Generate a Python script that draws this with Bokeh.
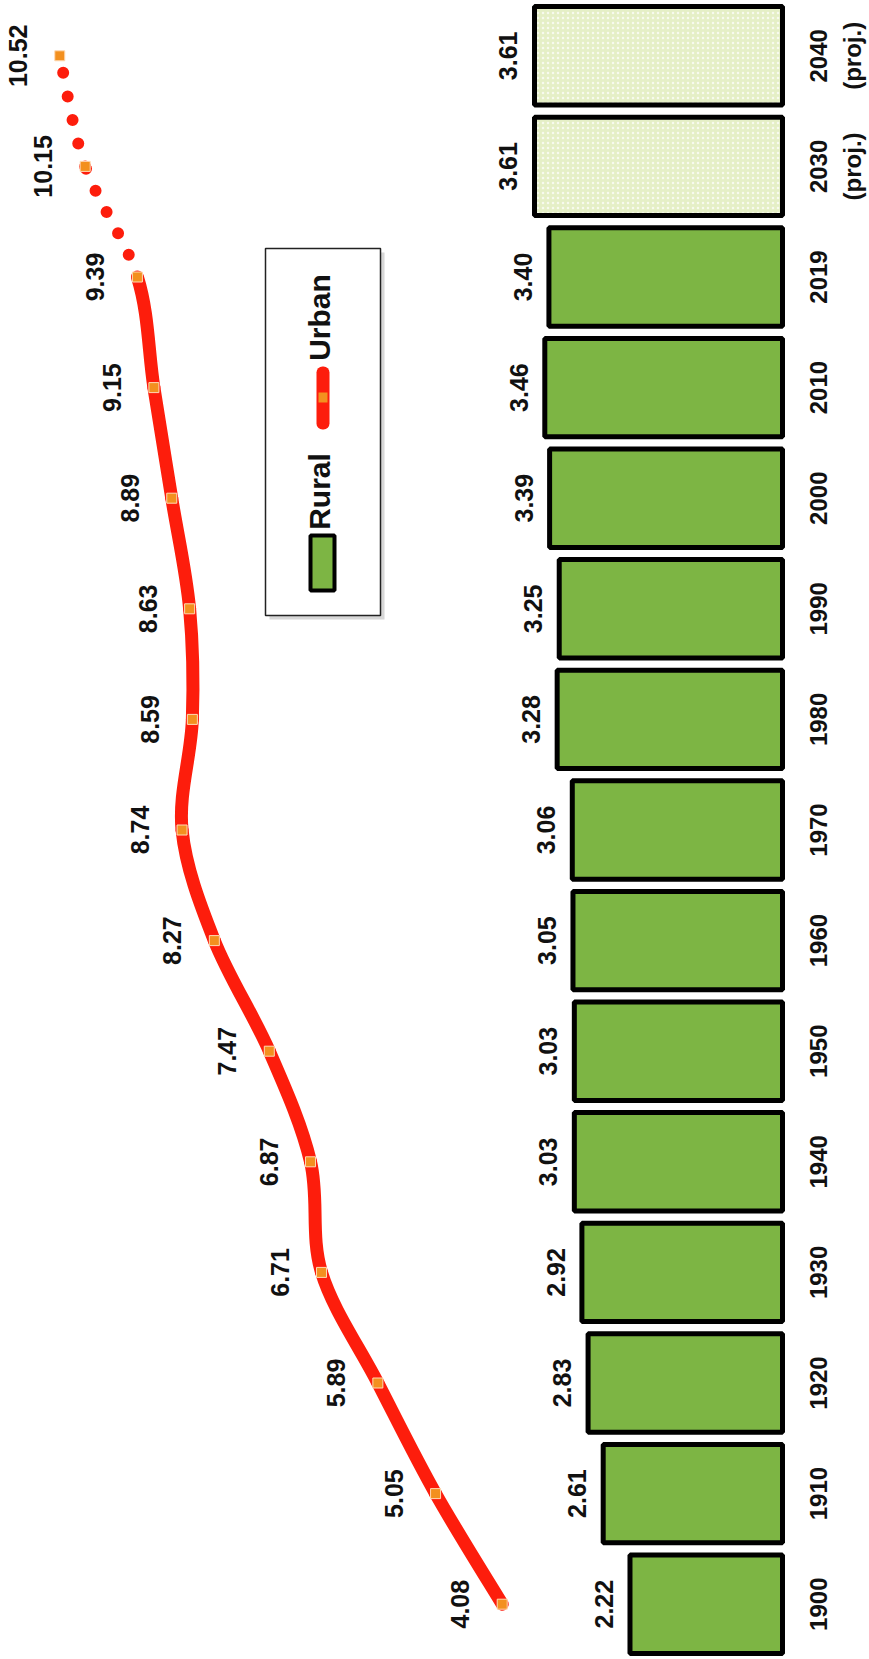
import math
from bokeh.plotting import figure
from bokeh.models import FactorRange, Range1d, BoxAnnotation, Label, ColumnDataSource
from bokeh.core.properties import value
from bokeh.embed import file_html
from bokeh.resources import INLINE

# ---- data ----
years = ["1900", "1910", "1920", "1930", "1940", "1950", "1960", "1970",
         "1980", "1990", "2000", "2010", "2019", "2030", "2040"]
proj_note = ["(proj.)", "(proj.)"]  # second line under 2030 and 2040
rural = [2.22, 2.61, 2.83, 2.92, 3.03, 3.03, 3.05, 3.06,
         3.28, 3.25, 3.39, 3.46, 3.40, 3.61, 3.61]
urban = [4.08, 5.05, 5.89, 6.71, 6.87, 7.47, 8.27, 8.74,
         8.59, 8.63, 8.89, 9.15, 9.39, 10.15, 10.52]
n_actual = 13  # 1900..2019 measured, 2030/2040 projected

FONT = value("Liberation Sans")
GREEN = "#7db544"
PROJ = "#e5efc6"
RED = "#fd1d0c"
ORANGE = "#f3901f"

H = 1659
W = 869
PX_PER_UNIT = 68.7
ZERO_X = 782  # pixel where the value axis starts (bars grow leftwards)
p = figure(frame_width=W, frame_height=H,
           x_range=Range1d(ZERO_X / PX_PER_UNIT, -(W - ZERO_X) / PX_PER_UNIT),
           y_range=FactorRange(factors=years),
           output_backend="svg", toolbar_location=None,
           x_axis_location=None, y_axis_location=None, min_border=0)
p.xgrid.visible = False
p.ygrid.visible = False
p.outline_line_color = None
p.background_fill_color = "white"
p.border_fill_color = "white"

# ---- bars ----
src_a = ColumnDataSource(dict(year=years[:n_actual], rural=rural[:n_actual]))
src_p = ColumnDataSource(dict(year=years[n_actual:], rural=rural[n_actual:],
                              zero=[0] * len(proj_note), note=proj_note))
p.hbar(y="year", left=0, right="rural", height=0.89, source=src_a,
       fill_color=GREEN, line_color="black", line_width=5)
p.hbar(y="year", left=0, right="rural", height=0.89, source=src_p,
       fill_color=PROJ, line_color="black", line_width=5,
       hatch_pattern="dot", hatch_color="white", hatch_alpha=0.7, hatch_scale=5)

src_all = ColumnDataSource(dict(year=years, rural=rural, urban=urban,
                                zero=[0] * len(years),
                                rl=[f"{v:.2f}" for v in rural],
                                ul=[f"{v:.2f}" for v in urban]))

# category labels (rotated, to the right of the bars)
p.text(x="zero", y="year", text="year", source=src_all, angle=math.pi / 2,
       text_align="center", text_baseline="middle", x_offset=36,
       text_font=FONT, text_font_style="bold", text_font_size="24px",
       text_color="#111111")
p.text(x="zero", y="year", text="note", source=src_p, angle=math.pi / 2,
       text_align="center", text_baseline="middle", x_offset=70,
       text_font=FONT, text_font_style="bold", text_font_size="24px",
       text_color="#111111")

# rural value labels
p.text(x="rural", y="year", text="rl", source=src_all, angle=math.pi / 2,
       text_align="center", text_baseline="middle", x_offset=-26,
       text_font=FONT, text_font_style="bold", text_font_size="25px",
       text_color="#111111")

# ---- urban line (smoothed, Excel-like) ----
ys = [i + 0.5 for i in range(len(years))]
n = len(urban)
seg = dict(x0=[], y0=[], x1=[], y1=[], cx0=[], cy0=[], cx1=[], cy1=[])
for i in range(n - 1):
    xp, yp = (urban[i - 1], ys[i - 1]) if i > 0 else (urban[i], ys[i])
    xn, yn = (urban[i + 2], ys[i + 2]) if i + 2 < n else (urban[i + 1], ys[i + 1])
    seg["x0"].append(urban[i]); seg["y0"].append(ys[i])
    seg["x1"].append(urban[i + 1]); seg["y1"].append(ys[i + 1])
    seg["cx0"].append(urban[i] + (urban[i + 1] - xp) / 6)
    seg["cy0"].append(ys[i] + (ys[i + 1] - yp) / 6)
    seg["cx1"].append(urban[i + 1] - (xn - urban[i]) / 6)
    seg["cy1"].append(ys[i + 1] - (yn - ys[i]) / 6)

solid = ColumnDataSource({k: v[:n_actual - 1] for k, v in seg.items()})
dotted = ColumnDataSource({k: v[n_actual - 1:] for k, v in seg.items()})
p.bezier(x0="x0", y0="y0", x1="x1", y1="y1", cx0="cx0", cy0="cy0",
         cx1="cx1", cy1="cy1", source=solid, line_color=RED, line_width=13,
         line_cap="round")
p.bezier(x0="x0", y0="y0", x1="x1", y1="y1", cx0="cx0", cy0="cy0",
         cx1="cx1", cy1="cy1", source=dotted, line_color=RED, line_width=12,
         line_cap="round", line_dash="0 24")

p.scatter(x="urban", y="year", source=src_all, marker="square", size=10,
          fill_color=ORANGE, line_color="#ffd9b3", line_width=1)
p.text(x="urban", y="year", text="ul", source=src_all, angle=math.pi / 2,
       text_align="center", text_baseline="middle", x_offset=-42,
       text_font=FONT, text_font_style="bold", text_font_size="25px",
       text_color="#111111")

# ---- legend (rotated, drawn manually in screen units) ----
def cy(y):
    return H - y

def box(l, r, t, b, **kw):
    p.add_layout(BoxAnnotation(left=l, right=r, top=cy(t), bottom=cy(b),
                               left_units="screen", right_units="screen",
                               top_units="screen", bottom_units="screen", **kw))

box(269, 384, 252, 619, fill_color="#bdbdbd", fill_alpha=0.6, line_color=None)
box(265, 380, 248, 615, fill_color="white", fill_alpha=1,
    line_color="#222222", line_alpha=1, line_width=1.5)
box(310, 334, 535, 590, fill_color=GREEN, fill_alpha=1,
    line_color="black", line_alpha=1, line_width=4)
box(316, 329, 366, 429, fill_color=RED, fill_alpha=1, line_color=None, border_radius=6)
box(318, 327, 392, 402, fill_color=ORANGE, fill_alpha=1, line_color=None)
for txt, yc in (("Rural", 491), ("Urban", 317)):
    p.add_layout(Label(x=319, y=cy(yc), x_units="screen", y_units="screen",
                       text=txt, angle=math.pi / 2, text_align="center",
                       text_baseline="alphabetic", text_font="Liberation Sans",
                       text_font_style="bold", text_font_size="30px",
                       text_color="#111111"))

open("out.html", "w").write(file_html(p, INLINE))
